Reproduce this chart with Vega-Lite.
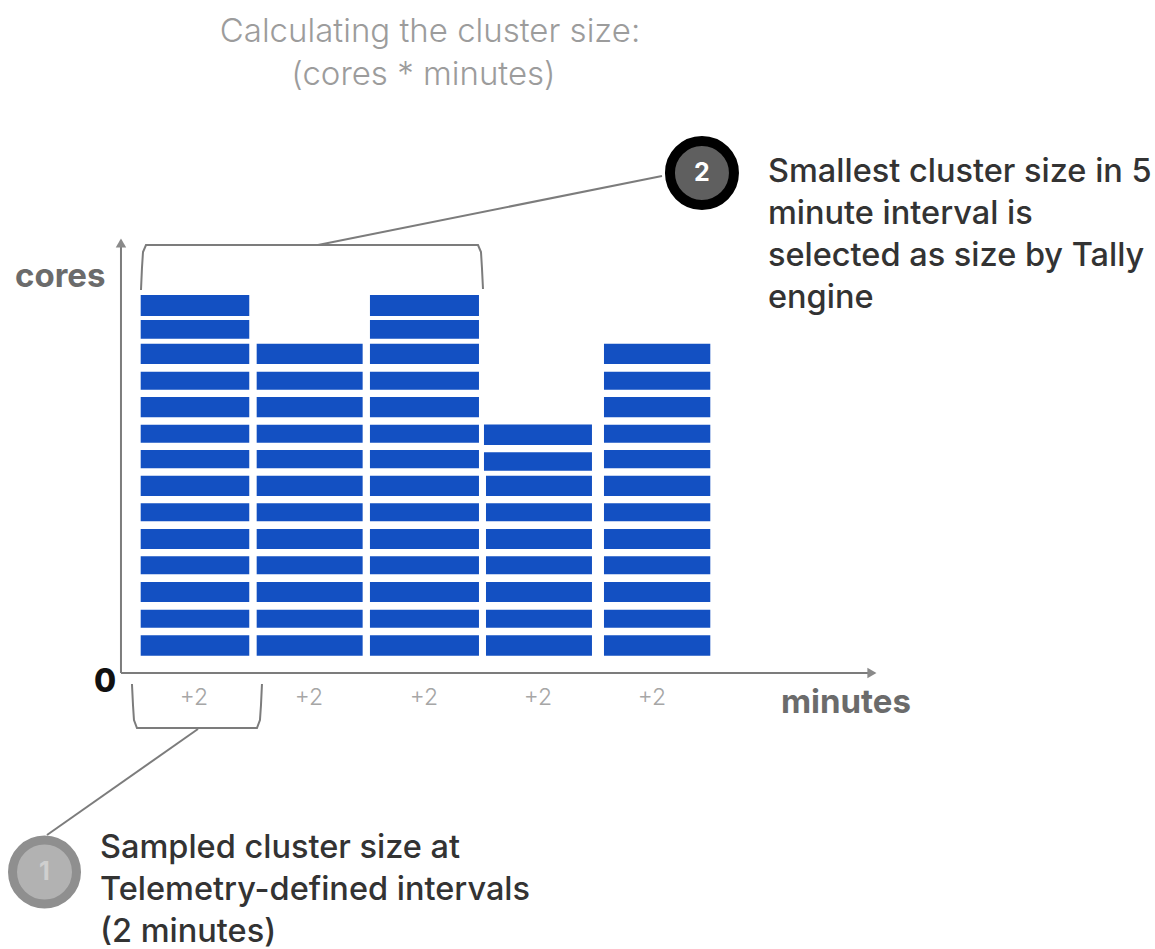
{"$schema":"https://vega.github.io/schema/vega-lite/v6.json","width":1155,"height":949,"padding":0,"autosize":{"type":"none"},"background":"white","config":{"view":{"stroke":null}},
"datasets":{
"bars":[
{"slot":1,"core":1,"start":0.343,"end":2.231,"low":0.653,"high":1.423},{"slot":1,"core":2,"start":0.343,"end":2.231,"low":1.709,"high":2.389},{"slot":1,"core":3,"start":0.343,"end":2.231,"low":2.679,"high":3.434},{"slot":1,"core":4,"start":0.343,"end":2.231,"low":3.725,"high":4.404},{"slot":1,"core":5,"start":0.343,"end":2.231,"low":4.679,"high":5.434},{"slot":1,"core":6,"start":0.343,"end":2.231,"low":5.725,"high":6.404},{"slot":1,"core":7,"start":0.343,"end":2.231,"low":6.679,"high":7.445},{"slot":1,"core":8,"start":0.343,"end":2.231,"low":7.725,"high":8.415},{"slot":1,"core":9,"start":0.343,"end":2.231,"low":8.691,"high":9.370},{"slot":1,"core":10,"start":0.343,"end":2.231,"low":9.649,"high":10.415},{"slot":1,"core":11,"start":0.343,"end":2.231,"low":10.691,"high":11.370},{"slot":1,"core":12,"start":0.343,"end":2.231,"low":11.660,"high":12.426},{"slot":1,"core":13,"start":0.343,"end":2.231,"low":12.615,"high":13.321},{"slot":1,"core":14,"start":0.343,"end":2.231,"low":13.472,"high":14.264},
{"slot":2,"core":1,"start":2.36,"end":4.203,"low":0.653,"high":1.423},{"slot":2,"core":2,"start":2.36,"end":4.203,"low":1.709,"high":2.389},{"slot":2,"core":3,"start":2.36,"end":4.203,"low":2.679,"high":3.434},{"slot":2,"core":4,"start":2.36,"end":4.203,"low":3.725,"high":4.404},{"slot":2,"core":5,"start":2.36,"end":4.203,"low":4.679,"high":5.434},{"slot":2,"core":6,"start":2.36,"end":4.203,"low":5.725,"high":6.404},{"slot":2,"core":7,"start":2.36,"end":4.203,"low":6.679,"high":7.445},{"slot":2,"core":8,"start":2.36,"end":4.203,"low":7.725,"high":8.415},{"slot":2,"core":9,"start":2.36,"end":4.203,"low":8.691,"high":9.370},{"slot":2,"core":10,"start":2.36,"end":4.203,"low":9.649,"high":10.415},{"slot":2,"core":11,"start":2.36,"end":4.203,"low":10.691,"high":11.370},{"slot":2,"core":12,"start":2.36,"end":4.203,"low":11.660,"high":12.426},
{"slot":3,"core":1,"start":4.33,"end":6.226,"low":0.653,"high":1.423},{"slot":3,"core":2,"start":4.33,"end":6.226,"low":1.709,"high":2.389},{"slot":3,"core":3,"start":4.33,"end":6.226,"low":2.679,"high":3.434},{"slot":3,"core":4,"start":4.33,"end":6.226,"low":3.725,"high":4.404},{"slot":3,"core":5,"start":4.33,"end":6.226,"low":4.679,"high":5.434},{"slot":3,"core":6,"start":4.33,"end":6.226,"low":5.725,"high":6.404},{"slot":3,"core":7,"start":4.33,"end":6.226,"low":6.679,"high":7.445},{"slot":3,"core":8,"start":4.33,"end":6.226,"low":7.725,"high":8.415},{"slot":3,"core":9,"start":4.33,"end":6.226,"low":8.691,"high":9.370},{"slot":3,"core":10,"start":4.33,"end":6.226,"low":9.649,"high":10.415},{"slot":3,"core":11,"start":4.33,"end":6.226,"low":10.691,"high":11.370},{"slot":3,"core":12,"start":4.33,"end":6.226,"low":11.660,"high":12.426},{"slot":3,"core":13,"start":4.33,"end":6.226,"low":12.615,"high":13.321},{"slot":3,"core":14,"start":4.33,"end":6.226,"low":13.472,"high":14.264},
{"slot":4,"core":1,"start":6.348,"end":8.191,"low":0.653,"high":1.423},{"slot":4,"core":2,"start":6.348,"end":8.191,"low":1.709,"high":2.389},{"slot":4,"core":3,"start":6.348,"end":8.191,"low":2.679,"high":3.434},{"slot":4,"core":4,"start":6.348,"end":8.191,"low":3.725,"high":4.404},{"slot":4,"core":5,"start":6.348,"end":8.191,"low":4.679,"high":5.434},{"slot":4,"core":6,"start":6.348,"end":8.191,"low":5.725,"high":6.404},{"slot":4,"core":7,"start":6.348,"end":8.191,"low":6.679,"high":7.445},{"slot":4,"core":8,"start":6.313,"end":8.191,"low":7.634,"high":8.328},{"slot":4,"core":9,"start":6.313,"end":8.191,"low":8.604,"high":9.381},
{"slot":5,"core":1,"start":8.4,"end":10.249,"low":0.653,"high":1.423},{"slot":5,"core":2,"start":8.4,"end":10.249,"low":1.709,"high":2.389},{"slot":5,"core":3,"start":8.4,"end":10.249,"low":2.679,"high":3.434},{"slot":5,"core":4,"start":8.4,"end":10.249,"low":3.725,"high":4.404},{"slot":5,"core":5,"start":8.4,"end":10.249,"low":4.679,"high":5.434},{"slot":5,"core":6,"start":8.4,"end":10.249,"low":5.725,"high":6.404},{"slot":5,"core":7,"start":8.4,"end":10.249,"low":6.679,"high":7.445},{"slot":5,"core":8,"start":8.4,"end":10.249,"low":7.725,"high":8.415},{"slot":5,"core":9,"start":8.4,"end":10.249,"low":8.691,"high":9.370},{"slot":5,"core":10,"start":8.4,"end":10.249,"low":9.649,"high":10.415},{"slot":5,"core":11,"start":8.4,"end":10.249,"low":10.691,"high":11.370},{"slot":5,"core":12,"start":8.4,"end":10.249,"low":11.660,"high":12.426}],
"lines":[
{"id":"yaxis","o":1,"x":0,"y":0},{"id":"yaxis","o":2,"x":0,"y":16.34},
{"id":"xaxis","o":1,"x":0,"y":0},{"id":"xaxis","o":2,"x":13.113,"y":0},
{"id":"top","o":1,"x":0.348,"y":14.453},{"id":"top","o":2,"x":0.365,"y":15.283},{"id":"top","o":3,"x":0.383,"y":15.887},{"id":"top","o":4,"x":0.435,"y":16.151},{"id":"top","o":5,"x":6.209,"y":16.151},{"id":"top","o":6,"x":6.261,"y":15.887},{"id":"top","o":7,"x":6.278,"y":15.283},{"id":"top","o":8,"x":6.296,"y":14.491},
{"id":"lead2","o":1,"x":3.426,"y":16.151},{"id":"lead2","o":2,"x":9.409,"y":18.755},
{"id":"low","o":1,"x":0.191,"y":-0.415},{"id":"low","o":2,"x":0.209,"y":-1.208},{"id":"low","o":3,"x":0.226,"y":-1.774},{"id":"low","o":4,"x":0.278,"y":-2.075},{"id":"low","o":5,"x":2.365,"y":-2.075},{"id":"low","o":6,"x":2.417,"y":-1.774},{"id":"low","o":7,"x":2.435,"y":-1.208},{"id":"low","o":8,"x":2.452,"y":-0.415},
{"id":"lead1","o":1,"x":1.339,"y":-2.113},{"id":"lead1","o":2,"x":-1.287,"y":-6.113}]
},
"encoding":{
"x":{"field":"x","type":"quantitative","axis":null,"scale":{"domain":[-2.104,17.983],"nice":false,"zero":false}},
"y":{"field":"y","type":"quantitative","axis":null,"scale":{"domain":[-10.415,25.396],"nice":false,"zero":false}}
},
"layer":[
{"data":{"name":"lines"},"mark":{"type":"line","color":"#7c7c7c","strokeWidth":2},"encoding":{"detail":{"field":"id"},"order":{"field":"o","type":"quantitative"}}},
{"data":{"values":[{"x":0,"y":16.226}]},"mark":{"type":"point","shape":"triangle-up","filled":true,"color":"#8a8a8a","size":110,"opacity":1}},
{"data":{"values":[{"x":13.06,"y":0}]},"mark":{"type":"point","shape":"triangle-right","filled":true,"color":"#8a8a8a","size":110,"opacity":1}},
{"data":{"name":"bars"},"mark":{"type":"rect","color":"#1350c2"},"encoding":{"x":{"field":"start","type":"quantitative"},"x2":{"field":"end"},"y":{"field":"low","type":"quantitative"},"y2":{"field":"high"}}},
{"data":{"values":[{"x":-1.330,"y":-7.509}]},"mark":{"type":"point","shape":"circle","filled":false,"size":4096,"fill":"#b2b2b2","stroke":"#8f8f8f","strokeWidth":9,"opacity":1,"fillOpacity":1}},
{"data":{"values":[{"x":10.104,"y":18.868}]},"mark":{"type":"point","shape":"circle","filled":false,"size":4096,"fill":"#5f5f5f","stroke":"#000000","strokeWidth":10,"opacity":1,"fillOpacity":1}},
{"data":{"values":[{"t":"1","x":-1.330,"y":-7.509,"c":"#cfcfcf"},{"t":"2","x":10.104,"y":18.868,"c":"#ffffff"}]},"mark":{"type":"text","font":"Inter","fontSize":25,"fontWeight":700,"align":"center","baseline":"middle"},"encoding":{"text":{"field":"t"},"color":{"field":"c","type":"nominal","scale":null}}},
{"data":{"values":[{"t":"Calculating the cluster size:","x":5.374,"y":23.811},{"t":"(cores * minutes)","x":5.26,"y":22.189}]},"mark":{"type":"text","font":"Inter","fontSize":33,"fontWeight":300,"color":"#9c9c9c","align":"center","baseline":"alphabetic"},"encoding":{"text":{"field":"t"}}},
{"data":{"values":[{"t":"cores","x":-1.843,"y":14.566},{"t":"minutes","x":11.478,"y":-1.509}]},"mark":{"type":"text","font":"Inter","fontSize":33,"fontWeight":700,"color":"#6b6b6b","align":"left","baseline":"alphabetic"},"encoding":{"text":{"field":"t"}}},
{"data":{"values":[{"t":"0","x":-0.278,"y":-0.717}]},"mark":{"type":"text","font":"Inter","fontSize":32,"fontWeight":800,"color":"#111111","align":"center","baseline":"alphabetic"},"encoding":{"text":{"field":"t"}}},
{"data":{"values":[{"t":"+2","x":1.270,"y":-1.208},{"t":"+2","x":3.270,"y":-1.208},{"t":"+2","x":5.270,"y":-1.208},{"t":"+2","x":7.252,"y":-1.208},{"t":"+2","x":9.235,"y":-1.208}]},"mark":{"type":"text","font":"Inter","fontSize":23,"fontWeight":300,"color":"#a6a6a6","align":"center","baseline":"alphabetic"},"encoding":{"text":{"field":"t"}}},
{"data":{"values":[{"t":"Smallest cluster size in 5","x":11.252,"y":18.528},{"t":"minute interval is","x":11.252,"y":16.943},{"t":"selected as size by Tally","x":11.252,"y":15.358},{"t":"engine","x":11.252,"y":13.774},{"t":"Sampled cluster size at","x":-0.365,"y":-6.981},{"t":"Telemetry-defined intervals","x":-0.365,"y":-8.566},{"t":"(2 minutes)","x":-0.365,"y":-10.132}]},"mark":{"type":"text","font":"Inter","fontSize":32.5,"fontWeight":500,"color":"#333333","align":"left","baseline":"alphabetic"},"encoding":{"text":{"field":"t"}}}
]}
